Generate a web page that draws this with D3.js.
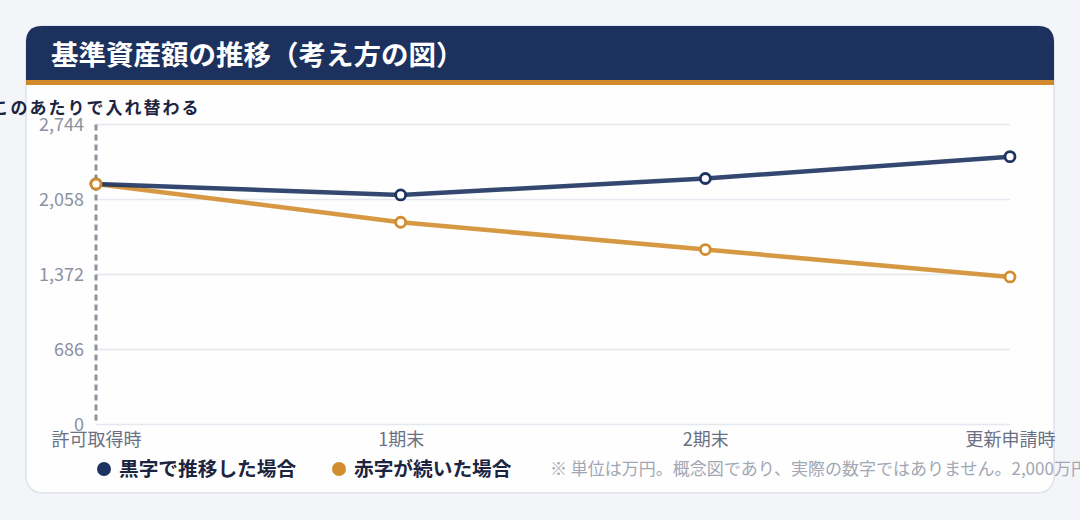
<!DOCTYPE html>
<html>
<head>
<meta charset="utf-8">
<script src="https://cdn.jsdelivr.net/npm/d3@7"></script>
<style>
  html, body { margin: 0; padding: 0; background: #f4f5f8; overflow: hidden; }
  svg { display: block; font-family: "Noto Sans CJK JP", "Noto Sans", sans-serif; }
</style>
</head>
<body>
<div id="chart"></div>
<script>
// -------- data --------
var categories = ['許可取得時', '1期末', '2期末', '更新申請時'];
var blackValues = [2200, 2100, 2250, 2450];   // 黒字で推移した場合
var redValues = [2200, 1850, 1600, 1350];     // 赤字が続いた場合
var seriesNames = ['黒字で推移した場合', '赤字が続いた場合'];
var seriesColors = ['#1d3361', '#d18d2e'];
var titleText = '基準資産額の推移（考え方の図）';
var noteText = '※ 単位は万円。概念図であり、実際の数字ではありません。2,000万円以上を維持することが必要です。';
var markerText = 'このあたりで入れ替わる';

var W = 1080, H = 520;
var card = { x: 26, y: 26, w: 1028, h: 467, r: 16 };
var margin = { left: 96, right: 70, top: 124.5, bottom: 95.5 };
var fontFamily = '"Noto Sans CJK JP", "Noto Sans", sans-serif';

var svg = d3.select('#chart').append('svg').attr('width', W).attr('height', H);

// card body
svg.append('rect')
  .attr('x', card.x).attr('y', card.y).attr('width', card.w).attr('height', card.h)
  .attr('rx', card.r).attr('fill', '#fdfefd').attr('stroke', '#dde1ea').attr('stroke-width', 1.5);

// header with rounded top corners only
var hx = card.x, hy = card.y, hw = card.w, hh = 54, r = card.r;
var headerPath = 'M' + hx + ',' + (hy + hh) +
  'V' + (hy + r) + 'Q' + hx + ',' + hy + ' ' + (hx + r) + ',' + hy +
  'H' + (hx + hw - r) + 'Q' + (hx + hw) + ',' + hy + ' ' + (hx + hw) + ',' + (hy + r) +
  'V' + (hy + hh) + 'Z';
svg.append('path').attr('d', headerPath).attr('fill', '#1c315e');
svg.append('rect').attr('x', hx).attr('y', hy + hh).attr('width', hw).attr('height', 5).attr('fill', '#d08a2b');

svg.append('text')
  .attr('x', 51).attr('y', 64.5)
  .attr('fill', '#ffffff').attr('font-size', 27.5).attr('font-weight', 700)
  .text(titleText);

// -------- scales --------
var yMax = d3.max(blackValues.concat(redValues)) * 1.12;
var x = d3.scalePoint().domain(categories).range([margin.left, W - margin.right]);
var y = d3.scaleLinear().domain([0, yMax]).range([H - margin.bottom, margin.top]);
var yTicks = d3.range(5).map(function(i) { return yMax * i / 4; });

// grid lines
svg.append('g').selectAll('line').data(yTicks).enter().append('line')
  .attr('x1', margin.left).attr('x2', W - margin.right)
  .attr('y1', function(d) { return y(d); }).attr('y2', function(d) { return y(d); })
  .attr('stroke', '#e6e8ef').attr('stroke-width', 1.5);

// y axis labels
var yAxis = d3.axisLeft(y).tickValues(yTicks).tickSize(0).tickPadding(12)
  .tickFormat(function(d) { return d3.format(',')(Math.round(d)); });
var yg = svg.append('g').attr('transform', 'translate(' + margin.left + ',0)').call(yAxis);
yg.select('.domain').remove();
yg.selectAll('text').attr('fill', '#8c91a3').attr('font-size', 18).attr('font-family', fontFamily);

// x axis labels
var xAxis = d3.axisBottom(x).tickSize(0).tickPadding(9);
var xg = svg.append('g').attr('transform', 'translate(0,' + (H - margin.bottom) + ')').call(xAxis);
xg.select('.domain').remove();
xg.selectAll('text').attr('fill', '#6b7084').attr('font-size', 18).attr('font-family', fontFamily);

// crossover marker at the first category
svg.append('line')
  .attr('x1', x(categories[0])).attr('x2', x(categories[0]))
  .attr('y1', y(yMax)).attr('y2', y(0))
  .attr('stroke', '#8e929e').attr('stroke-width', 3).attr('stroke-dasharray', '6,4');
svg.append('text')
  .attr('x', x(categories[0])).attr('y', 114)
  .attr('text-anchor', 'middle').attr('fill', '#1c2440')
  .attr('font-size', 17).attr('font-weight', 700).attr('letter-spacing', 2)
  .text(markerText);

// -------- lines --------
var series = [blackValues, redValues];
var line = d3.line().x(function(d, i) { return x(categories[i]); }).y(function(d) { return y(d); });

[1, 0].forEach(function(s) {
  svg.append('path').datum(series[s])
    .attr('d', line).attr('fill', 'none')
    .attr('stroke', seriesColors[s]).attr('stroke-width', 4.5)
    .attr('stroke-linejoin', 'round').attr('stroke-linecap', 'round')
    .attr('opacity', 0.9);
});
[0, 1].forEach(function(s) {
  svg.append('g').selectAll('circle').data(series[s]).enter().append('circle')
    .attr('cx', function(d, i) { return x(categories[i]); })
    .attr('cy', function(d) { return y(d); })
    .attr('r', 5).attr('fill', '#ffffff')
    .attr('stroke', seriesColors[s]).attr('stroke-width', 2.8);
});

// -------- legend --------
var legendX = [104, 339];
var legend = svg.append('g').selectAll('g').data(seriesNames).enter().append('g')
  .attr('transform', function(d, i) { return 'translate(' + legendX[i] + ',469)'; });
legend.append('circle').attr('r', 7).attr('fill', function(d, i) { return seriesColors[i]; });
legend.append('text')
  .attr('x', 15).attr('y', 7)
  .attr('fill', '#1c2440').attr('font-size', 19.7).attr('font-weight', 700)
  .text(function(d) { return d; });

svg.append('text')
  .attr('x', 550).attr('y', 475)
  .attr('fill', '#a3a7b4').attr('font-size', 17)
  .text(noteText);
</script>
</body>
</html>
